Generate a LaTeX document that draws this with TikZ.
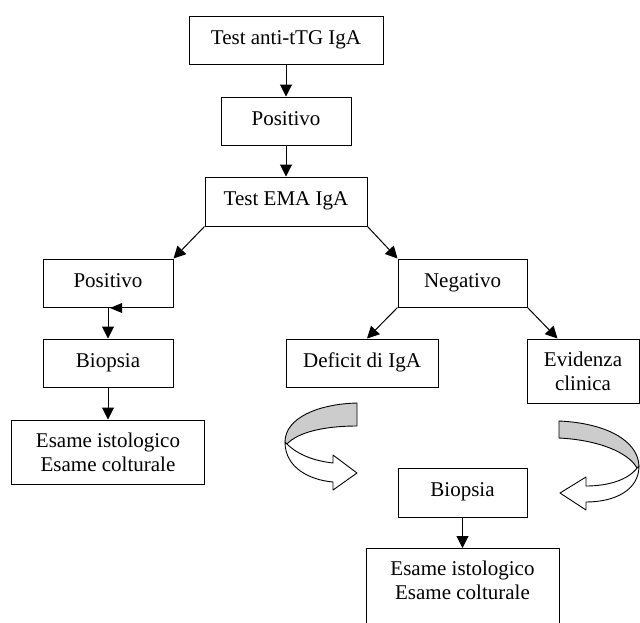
\documentclass[tikz,border=0pt]{standalone}
\usepackage{fontspec}
\setmainfont{Liberation Serif}
\usetikzlibrary{arrows.meta}
\begin{document}
\begin{tikzpicture}[x=1pt,y=-1pt,
  txt/.style={font=\fontsize{21}{24}\selectfont, align=center, inner sep=0pt},
  box/.style={txt, draw=black, line width=1pt},
  one/.style={text height=14pt, text depth=6pt},
  arr/.style={line width=1pt, -{Triangle[length=12pt,width=12pt]}},
  band/.style={draw=black, line width=0.9pt, line join=round}]
\useasboundingbox (0,0) rectangle (640,622);
\clip (0,0) rectangle (640,622);
\fill[white] (0,0) rectangle (640,622);

% boxes
\node[box,one,minimum width=194pt,minimum height=48pt] (t1) at (286,40) {Test anti-tTG IgA};
\node[box,one,minimum width=130pt,minimum height=48pt] (p1) at (286,121) {Positivo};
\node[box,one,minimum width=162pt,minimum height=49pt] (ema) at (286,201.5) {Test EMA IgA};
\node[box,one,minimum width=130pt,minimum height=48pt] (pl) at (108,283) {Positivo};
\node[box,one,minimum width=129pt,minimum height=48pt] (neg) at (462.5,283) {Negativo};
\node[box,one,minimum width=130pt,minimum height=48pt] (bl) at (108,363) {Biopsia};
\node[box,one,minimum width=152pt,minimum height=48pt] (def) at (362,363) {Deficit di IgA};
\node[box,minimum width=112pt,minimum height=64pt] (evi) at (583,371) {Evidenza\\clinica};
\node[box,minimum width=193pt,minimum height=64pt] (el) at (108,452) {Esame istologico\\Esame colturale};
\node[box,one,minimum width=129pt,minimum height=49pt] (br) at (462.5,492.5) {Biopsia};
\node[box,minimum width=193pt,minimum height=100pt,anchor=north] (er) at (462.5,548) {};
\node[txt,anchor=north] (ert) at (462.5,561) {Esame istologico\\Esame colturale};

% connectors
\draw[arr] (t1.south) -- (p1.north);
\draw[arr] (p1.south) -- (ema.north);
\draw[arr] (ema.south west) -- (pl.north east);
\draw[arr] (ema.south east) -- (neg.north west);
\draw[arr] (pl.south) -- (bl.north);
\draw[arr] (bl.south) -- (el.north);
\draw[arr] (neg.south west) -- ([xshift=5pt]def.north);
\draw[arr] (neg.south east) -- ([xshift=31pt]evi.north west);
\draw[arr] (br.south) -- (er.north);

% stray arrowhead under left Positivo
\fill (110,308) -- (122,303) -- (122,313) -- cycle;

% left curved arrow
\filldraw[band, fill=white]
  (287,444) .. controls (298,455) and (315,461) .. (333,463)
  -- (333,455) -- (357,473) -- (333,490) -- (333,482)
  .. controls (310,480) and (285,468) .. (285,442) -- cycle;
\filldraw[band, fill=black!20]
  (357,403) .. controls (318,404) and (285,418) .. (285,442)
  -- (287,444) .. controls (298,432) and (325,426) .. (357,426) -- cycle;

% right curved arrow
\filldraw[band, fill=white]
  (637,468) .. controls (628,480) and (608,486) .. (586,486)
  -- (586,477) -- (560,493) -- (586,510) -- (586,502)
  .. controls (615,502) and (639,490) .. (639,466) -- cycle;
\filldraw[band, fill=black!20]
  (559,421) .. controls (605,423) and (638,440) .. (639,466)
  -- (637,468) .. controls (628,452) and (598,440) .. (559,438) -- cycle;
\end{tikzpicture}
\end{document}
